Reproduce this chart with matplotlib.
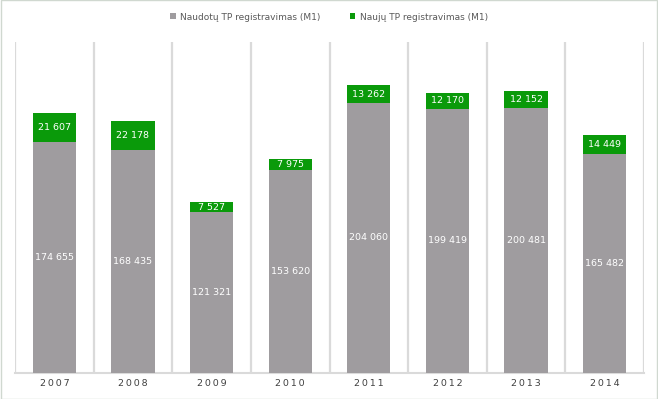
import numpy as np
import matplotlib.pyplot as plt

years = ['2007', '2008', '2009', '2010', '2011', '2012', '2013', '2014']
used = [174655, 168435, 121321, 153620, 204060, 199419, 200481, 165482]
new = [21607, 22178, 7527, 7975, 13262, 12170, 12152, 14449]

def fmt(v):
    return f'{v:,}'.replace(',', ' ')

fig = plt.figure(figsize=(6.58, 3.99), dpi=100)
ax = fig.add_axes([15 / 658, 26 / 399, 629 / 658, 331 / 399])

x = np.arange(len(years))
w = 0.55
b1 = ax.bar(x, used, w, color='#9f9c9f', label='Naudotų TP registravimas (M1)', zorder=3)
b2 = ax.bar(x, new, w, bottom=used, color='#0a9a0a', label='Naujų TP registravimas (M1)', zorder=3)

for i in range(len(years)):
    ax.text(x[i], used[i] / 2, fmt(used[i]), ha='center', va='center',
            color='white', fontsize=6.8, zorder=4)
    ax.text(x[i], used[i] + new[i] / 2, fmt(new[i]), ha='center', va='center',
            color='white', fontsize=6.8, zorder=4)

ax.set_xlim(-0.5, len(years) - 0.5)
ax.set_ylim(0, 250000)
ax.set_yticks([])
ax.set_xticks(x)
ax.set_xticklabels(['\u2009'.join(y) for y in years], fontsize=6.8, color='#404040')
ax.tick_params(axis='x', length=0, pad=4)
ax.set_xticks(np.arange(-0.5, len(years), 1), minor=True)
ax.tick_params(axis='x', which='minor', length=0)
ax.grid(axis='x', which='minor', color='#dadada', linewidth=1.6, zorder=0)
for s in ['top', 'right', 'left']:
    ax.spines[s].set_visible(False)
ax.spines['bottom'].set_color('#dadada')
ax.spines['bottom'].set_linewidth(1.5)

fig.legend(handles=[b1, b2], loc='center', bbox_to_anchor=(0.5, 1 - 17 / 399),
           ncol=2, frameon=False, fontsize=6.5, labelcolor='#595959',
           handlelength=0.6, handleheight=0.6, columnspacing=3.2, handletextpad=0.5)

fig.patches.append(plt.Rectangle((0.001, 0.001), 0.998, 0.998, transform=fig.transFigure,
                                 fill=False, edgecolor='#d0d8d0', linewidth=1))

fig.savefig('out.png', dpi=100)
